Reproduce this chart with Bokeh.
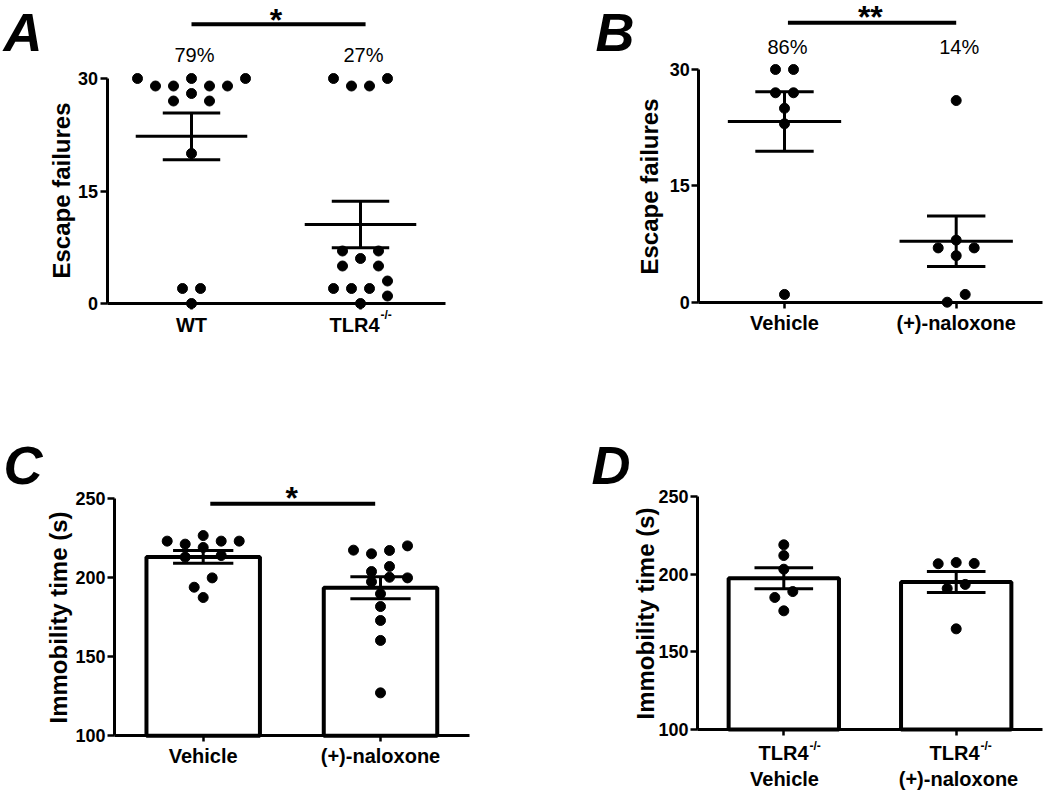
import numpy as np
from bokeh.plotting import figure
from bokeh.layouts import column, row
from bokeh.models import Range1d, FixedTicker, Label
from bokeh.embed import file_html
from bokeh.resources import INLINE
from bokeh.core.properties import value

FONT = "Liberation Sans"

# ---------------- data ----------------
a_labels = ["WT", "TLR4"]
a_wt = [30, 30, 30, 29, 29, 29, 29, 28, 27, 27, 20, 2, 2, 0]
a_tlr4 = [30, 30, 29, 29, 7, 7, 6, 5, 5, 3, 2, 2, 2, 1, 0]
a_pct = ["79%", "27%"]
a_sig = "*"

b_labels = ["Vehicle", "(+)-naloxone"]
b_vehicle = [30, 30, 27, 27, 25, 23, 1]
b_naloxone = [26, 8, 7, 7, 6, 1, 0]
b_pct = ["86%", "14%"]
b_sig = "**"

c_labels = ["Vehicle", "(+)-naloxone"]
c_vehicle = [226.4, 222.9, 222.9, 222.9, 221.0, 218.9, 213.8, 212.8, 199.7, 193.8, 187.3]
c_naloxone = [219.9, 217.2, 217.0, 214.9, 206.9, 203.7, 200.1, 199.7, 197.2,
              189.6, 181.6, 172.8, 160.2, 127.1]
c_sig = "*"

d_labels_top = ["TLR4", "TLR4"]
d_labels_bottom = ["Vehicle", "(+)-naloxone"]
d_vehicle = [218.9, 212.0, 203.2, 188.8, 185.0, 176.4]
d_naloxone = [207.5, 206.9, 206.7, 193.4, 190.8, 164.8]

sup_text = "-/-"
escape_ticks = [0, 15, 30]
immob_ticks = [100, 150, 200, 250]


def mean_sem(v):
    a = np.asarray(v, dtype=float)
    return a.mean(), a.std(ddof=1) / np.sqrt(len(a))


def arrange_row(row_vals):
    """Symmetric row slots; equal-valued pairs take the outermost slots."""
    m = len(row_vals)
    free = [k - (m - 1) / 2 for k in range(m)]
    out = []
    i = 0
    while i < m:
        j = i
        while j < m and row_vals[j] == row_vals[i]:
            j += 1
        c = j - i
        while c >= 2:
            pairs = sorted({abs(f) for f in free if f != 0 and -f in free}, reverse=True)
            if not pairs:
                break
            a = pairs[0]
            out += [-a, a]
            free.remove(-a)
            free.remove(a)
            c -= 2
        while c > 0:
            if 0 in free:
                f = 0
            else:
                f = sorted(free, key=lambda o: (-abs(o), -o))[0]
            out.append(f)
            free.remove(f)
            c -= 1
        i = j
    return out


class Panel:
    """A figure whose frame fills it; axes are drawn at fixed data locations."""

    def __init__(self, fig_box, xcal, ycal, ticks, bounds):
        fx, fy, W, H = fig_box
        (c1, X1), (c2, X2) = xcal
        (v0, Y0), (v1, Y1) = ycal
        self.X1, self.c1 = X1, c1
        self.kx = (X2 - X1) / (c2 - c1)
        self.v0, self.Y0 = v0, Y0
        self.ky = (Y0 - Y1) / (v1 - v0)
        p = figure(width=W, height=H,
                   x_range=Range1d(self.xd(fx), self.xd(fx + W)),
                   y_range=Range1d(self.yd(fy + H), self.yd(fy)),
                   output_backend="svg", toolbar_location=None,
                   min_border=0)
        p.outline_line_color = None
        p.grid.visible = False
        p.background_fill_color = "white"
        p.border_fill_color = "white"
        for ax in (p.xaxis[0], p.yaxis[0]):
            ax.axis_line_width = 3
            ax.axis_line_color = "black"
            ax.major_tick_line_width = 2.5
            ax.major_tick_line_color = "black"
            ax.major_tick_in = 0
            ax.major_tick_out = 7
            ax.minor_tick_line_color = None
            ax.major_label_text_font = FONT
            ax.major_label_text_font_style = "bold"
            ax.major_label_text_color = "black"
        p.yaxis.ticker = FixedTicker(ticks=ticks)
        p.yaxis.bounds = bounds
        p.yaxis.fixed_location = 0.5
        p.yaxis.major_label_text_font_size = "18px"
        p.yaxis.major_label_standoff = 2
        p.xaxis.ticker = FixedTicker(ticks=[1, 2])
        p.xaxis.bounds = (0.5, 2.5)
        p.xaxis.fixed_location = bounds[0]
        p.xaxis.major_label_text_font_size = "20px"
        p.xaxis.major_label_standoff = 4
        p.xaxis.major_tick_out = 6
        self.p = p

    def xd(self, X):
        return self.c1 + (X - self.X1) / self.kx

    def yd(self, Y):
        return self.v0 + (self.Y0 - Y) / self.ky

    def label(self, X, Y, text, size, style="bold", align="center", angle=0.0):
        # Y is the vertical centre of the text
        self.p.add_layout(Label(x=self.xd(X), y=self.yd(Y), text=text,
                                text_font=FONT, text_font_size=size,
                                text_font_style=style, text_align=align,
                                text_baseline="middle", angle=angle,
                                text_color="black"))

    def swarm(self, vals, step_px=18.0, row_px=10.0, clash_px=9.0):
        n = len(vals)
        order = sorted(range(n), key=lambda i: -vals[i])
        rows = []
        for i in order:
            if rows and (vals[rows[-1][0]] - vals[i]) * self.ky < row_px:
                rows[-1].append(i)
            else:
                rows.append([i])
        offs = {}

        def clash(i, o):
            for j, oj in offs.items():
                if abs(vals[i] - vals[j]) * self.ky < clash_px and abs(o - oj) < 1:
                    return True
            return False

        cands = sorted([k / 2 for k in range(-20, 21)], key=lambda o: (abs(o), -o))
        for r in rows:
            ideal = arrange_row([vals[i] for i in r])
            if not any(clash(i, o) for i, o in zip(r, ideal)):
                for i, o in zip(r, ideal):
                    offs[i] = o
            else:
                for i in r:
                    for o in cands:
                        if not clash(i, o):
                            offs[i] = o
                            break
        step = step_px / self.kx
        return [offs[i] * step for i in range(n)]

    def points(self, cat, vals):
        offs = self.swarm(vals)
        self.p.scatter(x=[cat + o for o in offs], y=vals, size=10,
                       fill_color="black", line_color="black")

    def mean_bars(self, cat, vals):
        m, s = mean_sem(vals)
        self.p.segment(x0=[cat - 0.33], x1=[cat + 0.33], y0=[m], y1=[m],
                       line_width=3, line_color="black")
        self.sem_bars(cat, vals)

    def bar(self, cat, vals, base):
        m, s = mean_sem(vals)
        self.p.vbar(x=[cat], top=[m], bottom=base, width=0.64, fill_color="white",
                    line_color="black", line_width=4)

    def sem_bars(self, cat, vals):
        m, s = mean_sem(vals)
        p = self.p
        p.segment(x0=[cat], x1=[cat], y0=[m - s], y1=[m + s],
                  line_width=3, line_color="black")
        p.segment(x0=[cat - 0.17] * 2, x1=[cat + 0.17] * 2, y0=[m - s, m + s],
                  y1=[m - s, m + s], line_width=3, line_color="black")

    def sig(self, Yline, Ystar_mid, star, size="32px", x0=1.0, x1=2.0):
        y = self.yd(Yline)
        self.p.segment(x0=[x0], x1=[x1], y0=[y], y1=[y], line_width=4, line_color="black")
        self.p.text(x=[1.5], y=[self.yd(Ystar_mid)], text=[star],
                    text_font=value(FONT), text_font_size=size, text_font_style="bold",
                    text_align="center", text_baseline="middle", text_color="black")

    def pct(self, Ymid, texts):
        self.p.text(x=[1, 2], y=[self.yd(Ymid)] * 2, text=texts, x_offset=3,
                    text_font=value(FONT), text_font_size="20px", text_align="center",
                    text_baseline="middle", text_color="black")


LETTER_SIZE = "54px"

# ---------------- panel A ----------------
A = Panel((0, 0, 520, 433), ((1, 191.0), (2, 360.0)), ((0, 303.0), (30, 78.0)),
          escape_ticks, (0, 30))
A.p.xaxis.major_label_overrides = {1: a_labels[0], 2: ""}
A.points(1, a_wt)
A.points(2, a_tlr4)
A.mean_bars(1, a_wt)
A.mean_bars(2, a_tlr4)
A.pct(54, a_pct)
A.sig(23.7, 19.5, a_sig, x1=2.03)
A.label(379, 324, a_labels[1], "20px", align="right")
A.label(380, 314, sup_text, "12px", align="left")
A.label(61, 190, "Escape failures", "24px", angle=np.pi / 2)
A.label(3, 31, "A", LETTER_SIZE, style="bold italic", align="left")

# ---------------- panel B ----------------
B = Panel((520, 0, 530, 433), ((1, 784.0), (2, 955.7)), ((0, 301.7), (30, 69.0)),
          escape_ticks, (0, 30))
B.p.xaxis.major_label_overrides = {1: b_labels[0], 2: b_labels[1]}
B.points(1, b_vehicle)
B.points(2, b_naloxone)
B.mean_bars(1, b_vehicle)
B.mean_bars(2, b_naloxone)
B.pct(46.3, b_pct)
B.sig(22.3, 16, b_sig, x0=1.02, x1=2.0)
B.label(648.7, 186, "Escape failures", "24px", angle=np.pi / 2)
B.label(595, 31.5, "B", LETTER_SIZE, style="bold italic", align="left")

# ---------------- panel C ----------------
C = Panel((0, 433, 520, 361), ((1, 202.7), (2, 380.0)), ((100, 735.3), (250, 497.7)),
          immob_ticks, (100, 250))
C.p.xaxis.major_label_overrides = {1: c_labels[0], 2: c_labels[1]}
C.p.xaxis.major_label_standoff = 3
C.bar(1, c_vehicle, 100)
C.bar(2, c_naloxone, 100)
C.points(1, c_vehicle)
C.points(2, c_naloxone)
C.sem_bars(1, c_vehicle)
C.sem_bars(2, c_naloxone)
C.sig(503.3, 497, c_sig, x0=1.04, x1=1.97)
C.label(58, 617, "Immobility time (s)", "24px", angle=np.pi / 2)
C.label(3, 464, "C", LETTER_SIZE, style="bold italic", align="left")

# ---------------- panel D ----------------
D = Panel((520, 433, 530, 361), ((1, 783.3), (2, 955.7)), ((100, 729.0), (250, 496.0)),
          immob_ticks, (100, 250))
D.p.xaxis.major_label_overrides = {1: "", 2: ""}
D.bar(1, d_vehicle, 100)
D.bar(2, d_naloxone, 100)
D.points(1, d_vehicle)
D.points(2, d_naloxone)
D.sem_bars(1, d_vehicle)
D.sem_bars(2, d_naloxone)
for X_right, X_center, top, bottom in ((808, 784, d_labels_top[0], d_labels_bottom[0]),
                                       (979, 958, d_labels_top[1], d_labels_bottom[1])):
    D.label(X_right, 752.5, top, "20px", align="right")
    D.label(X_right + 1, 745, sup_text, "12px", align="left")
    D.label(X_center, 778.5, bottom, "20px")
D.label(645, 613, "Immobility time (s)", "24px", angle=np.pi / 2)
D.label(591, 464, "D", LETTER_SIZE, style="bold italic", align="left")

layout = column(row(A.p, B.p), row(C.p, D.p))
open("out.html", "w").write(file_html(layout, INLINE))
